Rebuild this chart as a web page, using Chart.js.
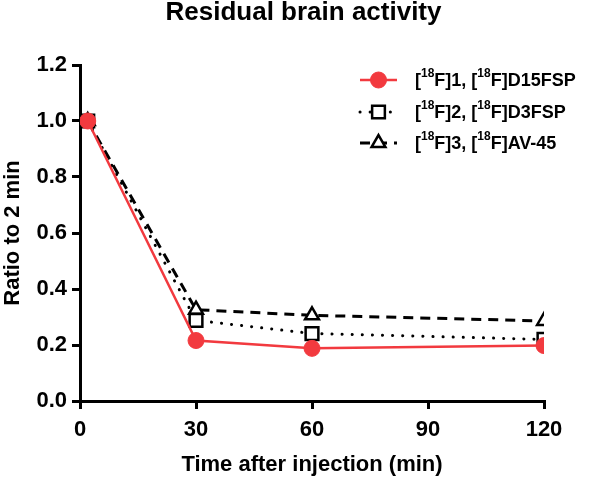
<!DOCTYPE html>
<html>
<head>
<meta charset="utf-8">
<script src="https://cdn.jsdelivr.net/npm/chart.js@4"></script>
<style>
    body { margin: 0; background: #fff; }
    #wrap { width: 607px; height: 479px; }
</style>
</head>
<body>
<div id="wrap"><canvas id="brainChart"></canvas></div>
<script>
// Data
const chartTitle = 'Residual brain activity';
const timePoints = [2, 30, 60, 120];
const seriesLabels = ['[^{18}F]1, [^{18}F]D15FSP', '[^{18}F]2, [^{18}F]D3FSP', '[^{18}F]3, [^{18}F]AV-45'];
const d15fspValues = [1.0, 0.216, 0.188, 0.198];
const d3fspValues = [1.0, 0.288, 0.241, 0.220];
const av45Values = [1.0, 0.326, 0.306, 0.286];
const xTicks = [0, 30, 60, 90, 120];
const yTicks = [0.0, 0.2, 0.4, 0.6, 0.8, 1.0, 1.2];

const FONT = "'Liberation Sans', Arial, sans-serif";
const RED = '#f23a3f';

function toPoints(values) {
    return timePoints.map((t, i) => ({ x: t, y: values[i] }));
}

// Title centred on the whole canvas (the built-in one centres inside the padding)
const titlePlugin = {
    id: 'pageTitle',
    afterDraw(chart) {
        const ctx = chart.ctx;
        ctx.save();
        ctx.fillStyle = '#000';
        ctx.font = 'bold 26px ' + FONT;
        ctx.textAlign = 'center';
        ctx.textBaseline = 'middle';
        ctx.fillText(chartTitle, chart.width / 2, 13);
        ctx.restore();
    }
};

// Legend drawn by hand so the superscripts can be rendered
const legendPlugin = {
    id: 'graphpadLegend',
    afterDraw(chart) {
        const ctx = chart.ctx;
        const x0 = 360, x1 = 397, textX = 415;
        const rows = [80, 112, 143];
        chart.data.datasets.forEach((ds, i) => {
            const y = rows[i];
            ctx.save();
            ctx.strokeStyle = ds.borderColor;
            ctx.lineWidth = ds.borderWidth;
            ctx.lineCap = ds.borderCapStyle || 'butt';
            ctx.setLineDash(ds.borderDash || []);
            ctx.beginPath();
            ctx.moveTo(x0, y);
            ctx.lineTo(x1, y);
            ctx.stroke();
            ctx.setLineDash([]);
            ctx.restore();
            ctx.save();
            ctx.fillStyle = ds.pointBackgroundColor;
            ctx.strokeStyle = ds.pointBorderColor;
            ctx.lineWidth = ds.pointBorderWidth;
            Chart.helpers.drawPoint(ctx, {
                pointStyle: ds.pointStyle,
                radius: ds.pointRadius,
                rotation: 0,
                borderWidth: ds.pointBorderWidth
            }, (x0 + x1) / 2, y);
            ctx.restore();

            // text with ^{..} superscripts
            ctx.save();
            ctx.fillStyle = '#000';
            ctx.textBaseline = 'middle';
            ctx.textAlign = 'left';
            let x = textX;
            const parts = ds.label.split(/(\^\{\d+\})/);
            parts.forEach(p => {
                if (!p) return;
                const m = p.match(/^\^\{(\d+)\}$/);
                if (m) {
                    ctx.font = 'bold 12px ' + FONT;
                    ctx.fillText(m[1], x, y - 6);
                    x += ctx.measureText(m[1]).width;
                } else {
                    ctx.font = 'bold 18px ' + FONT;
                    ctx.fillText(p, x, y + 1);
                    x += ctx.measureText(p).width;
                }
            });
            ctx.restore();
        });
    }
};

const ctx = document.getElementById('brainChart').getContext('2d');
const brainChart = new Chart(ctx, {
    type: 'line',
    data: {
        datasets: [
            {
                label: seriesLabels[0],
                data: toPoints(d15fspValues),
                borderColor: RED,
                borderWidth: 2.5,
                pointStyle: 'circle',
                pointRadius: 8,
                pointBackgroundColor: RED,
                pointBorderColor: RED,
                pointBorderWidth: 1,
                order: 1
            },
            {
                label: seriesLabels[1],
                data: toPoints(d3fspValues),
                borderColor: '#000',
                borderWidth: 3,
                borderDash: [0.1, 10],
                borderCapStyle: 'round',
                pointStyle: 'rect',
                pointRadius: 9,
                pointBackgroundColor: '#fff',
                pointBorderColor: '#000',
                pointBorderWidth: 2.5,
                order: 2
            },
            {
                label: seriesLabels[2],
                data: toPoints(av45Values),
                borderColor: '#000',
                borderWidth: 3,
                borderDash: [10, 7],
                pointStyle: 'triangle',
                pointRadius: 8,
                pointBackgroundColor: '#fff',
                pointBorderColor: '#000',
                pointBorderWidth: 2.5,
                order: 3
            }
        ]
    },
    options: {
        responsive: true,
        maintainAspectRatio: false,
        animation: false,
        layout: { padding: { left: 0, right: 63, top: 65, bottom: 0 } },
        plugins: {
            legend: { display: false },
            tooltip: { enabled: false },
            title: { display: false }
        },
        scales: {
            x: {
                type: 'linear',
                min: 0,
                max: 120,
                afterBuildTicks: axis => { axis.ticks = xTicks.map(v => ({ value: v })); },
                afterFit: axis => { axis.height = 78; },
                grid: { drawOnChartArea: false, drawTicks: true, tickLength: 8, color: '#000', lineWidth: 3 },
                border: { display: true, color: '#000', width: 3 },
                ticks: { color: '#000', padding: 8, maxRotation: 0, font: { family: FONT, size: 22, weight: 'bold' } },
                title: {
                    display: true,
                    text: 'Time after injection (min)',
                    color: '#000',
                    font: { family: FONT, size: 22, weight: 'bold' },
                    padding: { top: 0, bottom: 1 }
                }
            },
            y: {
                min: 0,
                max: 1.2,
                afterBuildTicks: axis => { axis.ticks = yTicks.map(v => ({ value: v })); },
                afterFit: axis => { axis.width = 80; },
                grid: { drawOnChartArea: false, drawTicks: true, tickLength: 8, color: '#000', lineWidth: 3 },
                border: { display: true, color: '#000', width: 3 },
                ticks: {
                    color: '#000',
                    padding: 5,
                    font: { family: FONT, size: 22, weight: 'bold' },
                    callback: v => v.toFixed(1)
                },
                title: {
                    display: true,
                    text: 'Ratio to 2 min',
                    color: '#000',
                    font: { family: FONT, size: 22, weight: 'bold' },
                    padding: { top: 0, bottom: 0 }
                }
            }
        }
    },
    plugins: [titlePlugin, legendPlugin]
});
</script>
</body>
</html>
